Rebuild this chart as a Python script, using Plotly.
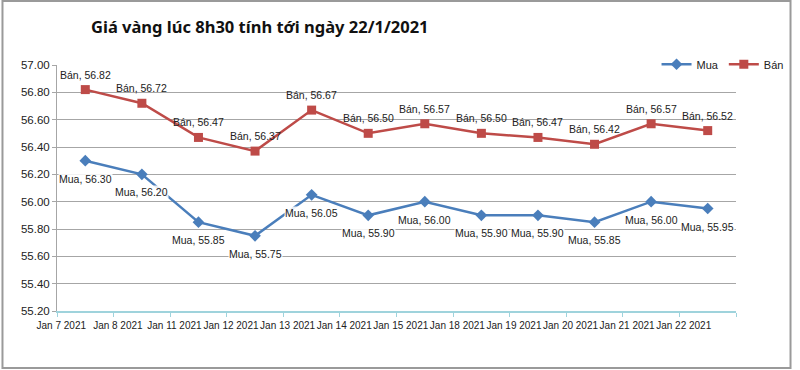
import plotly.graph_objects as go

dates = ["Jan 7 2021", "Jan 8 2021", "Jan 11 2021", "Jan 12 2021", "Jan 13 2021", "Jan 14 2021",
         "Jan 15 2021", "Jan 18 2021", "Jan 19 2021", "Jan 20 2021", "Jan 21 2021", "Jan 22 2021"]
mua = [56.30, 56.20, 55.85, 55.75, 56.05, 55.90, 56.00, 55.90, 55.90, 55.85, 56.00, 55.95]
ban = [56.82, 56.72, 56.47, 56.37, 56.67, 56.50, 56.57, 56.50, 56.47, 56.42, 56.57, 56.52]
y_ticks = [55.20, 55.40, 55.60, 55.80, 56.00, 56.20, 56.40, 56.60, 56.80, 57.00]

W, H = 800, 370
ML, MR, MT, MB = 57, 58, 65, 59
pw, ph = W - ML - MR, H - MT - MB

BLUE = "#4a7ebb"
RED = "#be4b48"
LABEL_FONT = dict(family="Liberation Sans", size=10.5, color="#222222")

fig = go.Figure()
fig.add_trace(go.Scatter(
    x=dates, y=mua, name="Mua", mode="lines+markers",
    line=dict(color=BLUE, width=2.5),
    marker=dict(symbol="diamond", size=9, color=BLUE),
))
fig.add_trace(go.Scatter(
    x=dates, y=ban, name="Bán", mode="lines+markers",
    line=dict(color=RED, width=2.5),
    marker=dict(symbol="square", size=9, color=RED),
))

for d, v in zip(dates, mua):
    fig.add_annotation(x=d, y=v, text=f"Mua, {v:.2f}", showarrow=False,
                       yshift=-18, font=LABEL_FONT, bgcolor="rgba(255,255,255,0.85)",
                       borderpad=0)
for d, v in zip(dates, ban):
    fig.add_annotation(x=d, y=v, text=f"Bán, {v:.2f}", showarrow=False,
                       yshift=15, font=LABEL_FONT, borderpad=0)

# outer frame
def px2x(p):
    return (p - ML) / pw

def py2y(p):
    return (H - MB - p) / ph

fig.add_shape(type="rect", xref="paper", yref="paper",
              x0=px2x(2), x1=px2x(797), y0=py2y(368), y1=py2y(1),
              line=dict(color="#9a9a9a", width=2), layer="below")

fig.update_layout(
    width=W, height=H,
    margin=dict(l=ML, r=MR, t=MT, b=MB),
    paper_bgcolor="white", plot_bgcolor="white",
    title=dict(text="<b>Giá vàng lúc 8h30 tính tới ngày 22/1/2021</b>",
               x=91 / W, xanchor="left", y=1 - 27 / H, yanchor="middle",
               font=dict(family="Noto Sans", size=16.5, color="#111111")),
    legend=dict(orientation="h", x=px2x(795), xanchor="right", y=1.003, yanchor="middle",
                bgcolor="white", font=dict(family="Liberation Sans", size=11, color="#222222"),
                itemwidth=30, tracegroupgap=0),
    showlegend=True,
)
fig.update_xaxes(
    type="category", range=[-0.5, 11.5],
    tickson="boundaries", ticks="outside", ticklen=4, tickcolor="#9fd3dc",
    showline=True, linecolor="#9fd3dc", linewidth=1.5, showgrid=False,
    tickfont=dict(family="Liberation Sans", size=10, color="#222222"),
    tickangle=0, ticklabelshift=-24, ticklabelstandoff=4,
)
fig.update_yaxes(
    range=[55.2, 57.0], tickvals=y_ticks, tickformat=".2f",
    showgrid=True, gridcolor="#a6a6a6", gridwidth=1,
    showline=True, linecolor="#a6a6a6", ticks="outside", ticklen=4, tickcolor="#a6a6a6",
    tickfont=dict(family="Liberation Sans", size=11.5, color="#222222"),
    zeroline=False,
)

fig.write_html("out.html", config={"displayModeBar": False},
               post_script="document.body.style.margin='0';")
